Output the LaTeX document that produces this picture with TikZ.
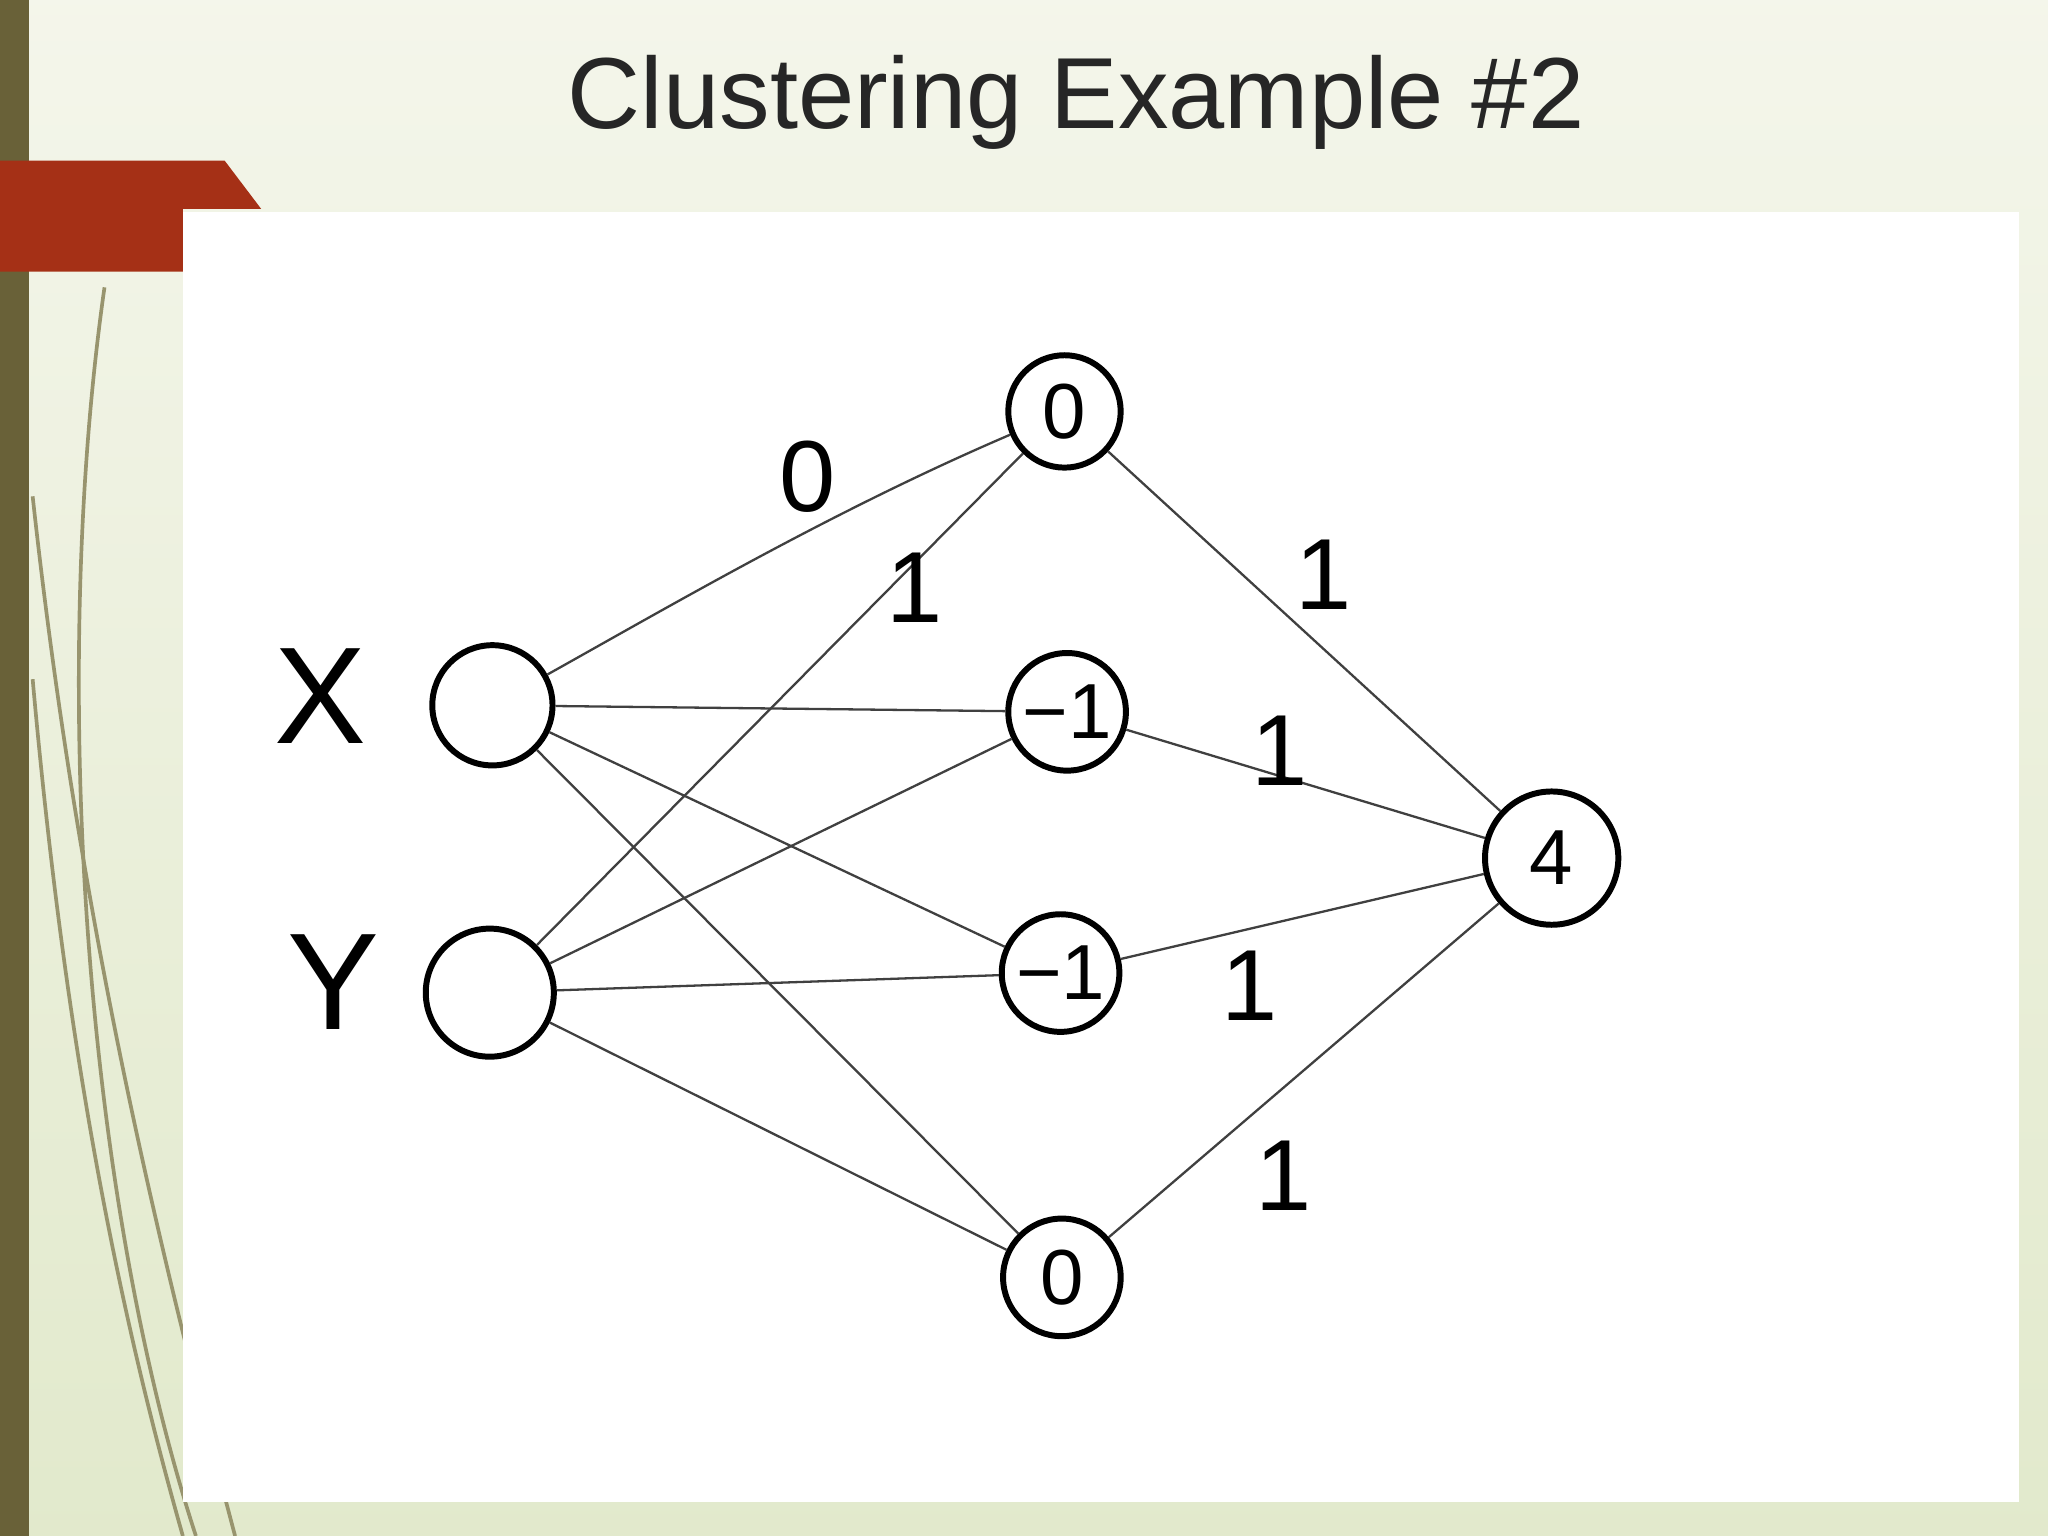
\documentclass[tikz,border=0pt]{standalone}
\usepackage{fontspec}
\setmainfont{Liberation Sans}
\begin{document}
\begin{tikzpicture}[x=0.01cm,y=-0.01cm,
  nd/.style={circle,draw=black,line width=1.3pt,minimum size=0.9cm,inner sep=0pt,font=\fontsize{17}{17}\selectfont},
  ed/.style={draw=black!75,line width=0.5pt},
  wl/.style={font=\fontsize{22}{22}\selectfont},
  deco/.style={draw=black!55!olive!60,line width=0.8pt}]
\useasboundingbox (0,0) rectangle (1568,1176);
\shade[top color=green!8!olive!8!white,bottom color=green!15!olive!20!white] (0,0) rectangle (1568,1176);
\fill[black!55!olive!80!brown] (0,0) rectangle (22,1176);
\draw[deco] (80,220) .. controls (40,500) and (60,900) .. (150,1176);
\draw[deco] (25,380) .. controls (60,700) and (120,950) .. (180,1176);
\draw[deco] (25,520) .. controls (50,800) and (90,1000) .. (140,1176);
\definecolor{tabred}{RGB}{165,48,22}
\fill[tabred] (0,123) -- (172,123) -- (200,160) -- (140,160) -- (140,208) -- (0,208) -- cycle;
\fill[white] (140,162) rectangle (1546,1150);
\node[font=\fontsize{22}{22}\selectfont,text=black!85] (title) at (824,78) {Clustering Example \#2};
\node[nd,minimum size=0.92cm] (x) at (377,540) {};
\node[nd,minimum size=0.98cm] (y) at (375,760) {};
\node[nd,minimum size=0.86cm] (h1) at (815,315) {0};
\node[nd] (h2) at (817,545) {−1};
\node[nd] (h3) at (812,745) {−1};
\node[nd] (h4) at (813,978) {0};
\node[nd,minimum size=1.02cm] (o) at (1188,657) {4};
\node[font=\fontsize{30}{30}\selectfont] (lx) at (245,533) {X};
\node[font=\fontsize{30}{30}\selectfont] (ly) at (255,752) {Y};
\draw[ed] (x) .. controls (520,460) and (640,390) .. (h1);
\foreach \b in {h2,h3,h4}{\draw[ed] (x) -- (\b);}
\foreach \b in {h1,h2,h3,h4}{\draw[ed] (y) -- (\b);}
\foreach \b in {h1,h2,h3,h4}{\draw[ed] (\b) -- (o);}
\node[wl] (w0) at (618,365) {0};
\node[wl] (w1) at (700,450) {1};
\node[wl] (w2) at (1013,440) {1};
\node[wl] (w3) at (980,575) {1};
\node[wl] (w4) at (957,755) {1};
\node[wl] (w5) at (983,900) {1};
\end{tikzpicture}
\end{document}
